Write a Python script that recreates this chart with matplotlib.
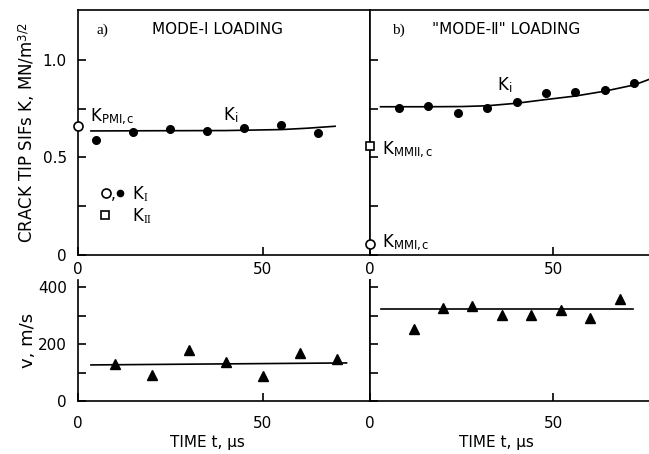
import matplotlib.pyplot as plt

plt.rcParams['font.family'] = ['DejaVu Sans', 'Noto Sans CJK SC']
plt.rcParams['mathtext.fontset'] = 'custom'
plt.rcParams['mathtext.rm'] = 'Liberation Serif'
plt.rcParams['mathtext.it'] = 'Liberation Serif:italic'

# mode I : K_I aux points de mesure (t en µs)
t_ka = [5, 15, 25, 35, 45, 55, 65]
k_a = [0.59, 0.632, 0.645, 0.638, 0.651, 0.665, 0.627]
t_fit_ka = [3.5, 20, 40, 55, 62, 69.5]
k_fit_a = [0.636, 0.637, 0.638, 0.643, 0.65, 0.66]
k_pmi_c = 0.66

# mode II
t_kb = [8, 16, 24, 32, 40, 48, 56, 64, 72]
k_b = [0.755, 0.765, 0.726, 0.755, 0.786, 0.833, 0.835, 0.845, 0.88]
t_fit_kb = [3, 15, 25, 32, 40, 48, 56, 64, 72, 76]
k_fit_b = [0.76, 0.76, 0.761, 0.765, 0.778, 0.797, 0.815, 0.84, 0.872, 0.9]
k_mmii_c = 0.56
k_mmi_c = 0.055

# vitesses de fissure
t_va = [10, 20, 30, 40, 50, 60, 70]
v_a = [131, 92, 181, 139, 87, 168, 148]
t_fit_va = [3.5, 72.6]
v_fit_a = [127, 134]

t_vb = [12, 20, 28, 36, 44, 52, 60, 68]
v_vb = [253, 327, 336, 303, 303, 321, 291, 360]
t_fit_vb = [3.2, 71.7]
v_fit_b = [323, 323]

W, H = 649, 454
fig = plt.figure(figsize=(W / 100, H / 100), dpi=100)

def box(x0, y0, x1, y1):
    return [x0 / W, 1 - y1 / H, (x1 - x0) / W, (y1 - y0) / H]

ax1 = fig.add_axes(box(78, 10, 369.5, 255))
ax2 = fig.add_axes(box(369.5, 10, 649, 255))
ax3 = fig.add_axes(box(78, 280, 369.5, 401))
ax4 = fig.add_axes(box(369.5, 280, 649, 401))

lw = 1.2
for ax in (ax1, ax2, ax3, ax4):
    for s in ax.spines.values():
        s.set_linewidth(lw)
    ax.tick_params(which='both', direction='in', length=6, width=lw,
                   labelsize=11, top=False, right=False)
    ax.set_xticks([0, 50])

for ax in (ax1, ax2):
    ax.set_ylim(0, 1.256)
    ax.set_yticks([0, 0.5, 1.0], ['0', '0.5', '1.0'])
    ax.set_yticks([0.25, 0.75], minor=True)
    ax.tick_params(axis='x', pad=5)
for ax in (ax3, ax4):
    ax.set_ylim(0, 426)
    ax.set_yticks([0, 200, 400])
    ax.set_yticks([100, 300], minor=True)
    ax.spines['top'].set_visible(False)
    ax.tick_params(axis='x', pad=11)
for ax in (ax1, ax3):
    ax.set_xlim(0, 78.8)
    ax.tick_params(axis='y', pad=8)
for ax in (ax2, ax4):
    ax.set_xlim(0, 76)
    ax.spines['right'].set_visible(False)
    ax.tick_params(axis='y', labelleft=False)

# panneau a) haut
ax1.plot(t_fit_ka, k_fit_a, color='black', lw=lw)
ax1.plot(t_ka, k_a, 'o', color='black', ms=5.5)
ax1.plot(0, k_pmi_c, 'o', mfc='white', mec='black', mew=1.2, ms=6.5, clip_on=False, zorder=5)
ax1.text(5.1, 1.154, 'a)', family='Liberation Serif', fontsize=11, va='center')
ax1.text(20, 1.154, 'MODE-I LOADING', fontsize=11, va='center')
ax1.text(3.2, 0.713, r'K$_{\mathregular{PMI,c}}$', fontsize=12, va='center')
ax1.text(39.2, 0.718, r'K$_{\mathregular{i}}$', fontsize=12, va='center')
# légende
ax1.plot(7.6, 0.318, 'o', mfc='white', mec='black', mew=1.2, ms=6.5)
ax1.text(9.0, 0.31, ',', fontsize=11, va='center')
ax1.plot(11.3, 0.318, 'o', color='black', ms=4.5)
ax1.text(14.5, 0.31, r'K$_{\mathrm{I}}$', fontsize=12, va='center')
ax1.plot(7.4, 0.205, 's', mfc='white', mec='black', mew=1.2, ms=6)
ax1.text(14.5, 0.197, r'K$_{\mathrm{II}}$', fontsize=12, va='center')
ax1.set_ylabel(r'CRACK TIP SIFs K, MN/m$^{\mathregular{3/2}}$', fontsize=12)
ax1.yaxis.set_label_coords(-0.141, 0.5)

# panneau b) haut
ax2.plot(t_fit_kb, k_fit_b, color='black', lw=lw, clip_on=False)
ax2.plot(t_kb, k_b, 'o', color='black', ms=5.5)
ax2.plot(0, k_mmii_c, 's', mfc='white', mec='black', mew=1.2, ms=6, clip_on=False, zorder=5)
ax2.plot(0, k_mmi_c, 'o', mfc='white', mec='black', mew=1.2, ms=6.5, clip_on=False, zorder=5)
ax2.text(6.25, 1.154, 'b)', family='Liberation Serif', fontsize=11, va='center')
ax2.text(17.1, 1.154, '"MODE-Ⅱ" LOADING', fontsize=11, va='center')
ax2.text(34.8, 0.872, r'K$_{\mathregular{i}}$', fontsize=12, va='center')
ax2.text(3.3, 0.545, r'K$_{\mathregular{MMII,c}}$', fontsize=12, va='center')
ax2.text(3.3, 0.065, r'K$_{\mathregular{MMI,c}}$', fontsize=12, va='center')

# vitesses
ax3.plot(t_fit_va, v_fit_a, color='black', lw=lw)
ax3.plot(t_va, v_a, '^', color='black', ms=6.5)
ax3.set_ylabel('v, m/s', fontsize=13)
ax3.yaxis.set_label_coords(-0.141, 0.5)
ax3.set_xlabel('TIME t, µs', fontsize=11)
ax3.xaxis.set_label_coords(0.445, -0.28)

ax4.plot(t_fit_vb, v_fit_b, color='black', lw=lw)
ax4.plot(t_vb, v_vb, '^', color='black', ms=6.5)
ax4.set_xlabel('TIME t, µs', fontsize=11)
ax4.xaxis.set_label_coords(0.455, -0.28)

fig.savefig('out.png', dpi=100)
